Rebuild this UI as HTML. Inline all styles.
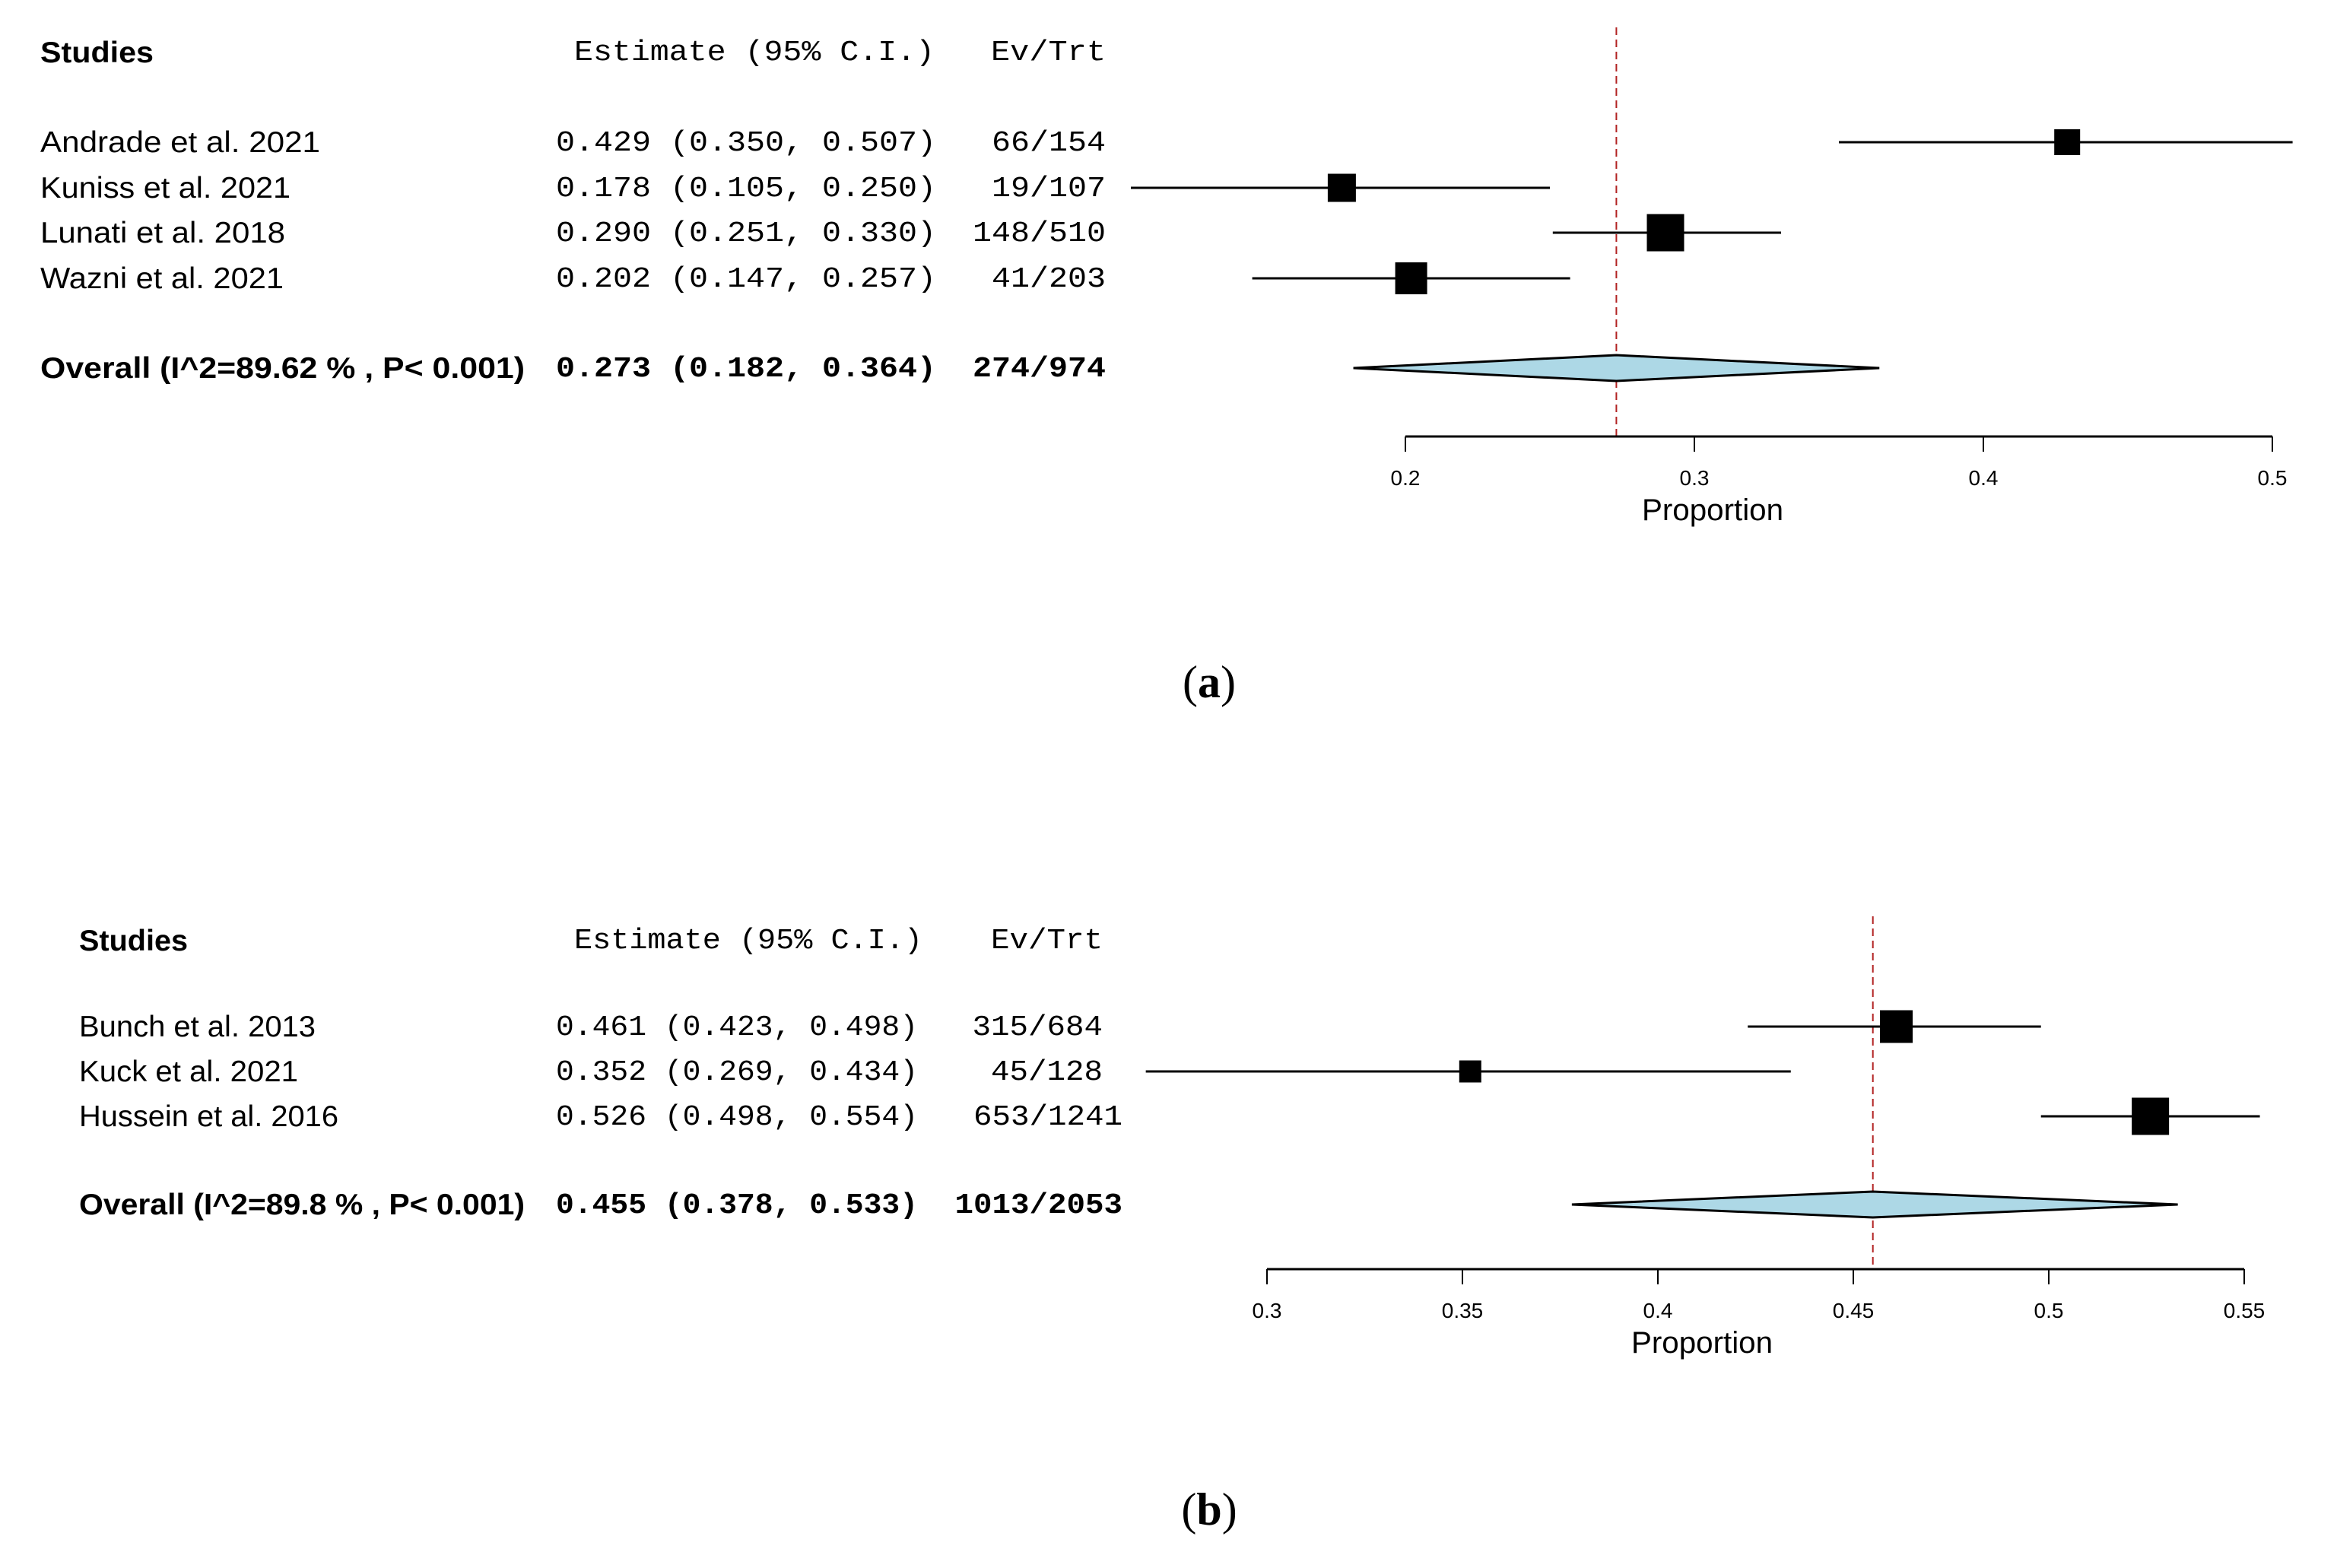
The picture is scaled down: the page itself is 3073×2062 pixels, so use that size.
<!DOCTYPE html>
<html><head><meta charset="utf-8"><style>
html,body{margin:0;padding:0;background:#fff;}
svg{display:block;}
.sans{font-family:"Liberation Sans",Arial,sans-serif;}
.mono{font-family:"Liberation Mono","Courier New",monospace;}
</style></head><body>
<svg id="fig" width="3073" height="2062" viewBox="0 0 3073 2062" xmlns="http://www.w3.org/2000/svg">
<rect width="3073" height="2062" fill="#fff"/>
</svg>
<script>
// Panel A data
const studiesA = ["Andrade et al. 2021","Kuniss et al. 2021","Lunati et al. 2018","Wazni et al. 2021"];
const estA = [0.429, 0.178, 0.290, 0.202];
const lowA = [0.350, 0.105, 0.251, 0.147];
const highA = [0.507, 0.250, 0.330, 0.257];
const evA = ["66/154","19/107","148/510","41/203"];
const weightA = [34, 37, 49, 42];
const overallA = [0.273, 0.182, 0.364];
const overallLabelA = "Overall (I^2=89.62 % , P< 0.001)";
const overallEvA = "274/974";
const ticksA = [0.2, 0.3, 0.4, 0.5];
// Panel B data
const studiesB = ["Bunch et al. 2013","Kuck et al. 2021","Hussein et al. 2016"];
const estB = [0.461, 0.352, 0.526];
const lowB = [0.423, 0.269, 0.498];
const highB = [0.498, 0.434, 0.554];
const evB = ["315/684","45/128","653/1241"];
const weightB = [43, 29, 49];
const overallB = [0.455, 0.378, 0.533];
const overallLabelB = "Overall (I^2=89.8 % , P< 0.001)";
const overallEvB = "1013/2053";
const ticksB = [0.3, 0.35, 0.4, 0.45, 0.5, 0.55];

const NS = "http://www.w3.org/2000/svg";
const svg = document.getElementById("fig");
function mk(tag, attrs, parent){
  const e = document.createElementNS(NS, tag);
  for (const k in attrs) e.setAttribute(k, attrs[k]);
  (parent||svg).appendChild(e);
  return e;
}
function txt(parent, s, x, y, size, cls, weight, anchor, len){
  const t = mk("text", {x:x, y:y, "font-size":size, class:cls, fill:"#000"}, parent);
  if (weight) t.setAttribute("font-weight", weight);
  if (anchor) t.setAttribute("text-anchor", anchor);
  if (len) { t.setAttribute("textLength", len); t.setAttribute("lengthAdjust","spacingAndGlyphs"); }
  t.textContent = s;
  return t;
}
function fmt(v){ return v.toFixed(3); }

function panel(cfg){
  const g = mk("g", {});
  
  
  const xs = v => cfg.x0 + (v - cfg.v0) * (cfg.x1 - cfg.x0) / (cfg.v1 - cfg.v0);
  const sz = 39;
  const h1 = txt(g, "Studies", cfg.lx, cfg.headY + 13, sz, "sans", "bold", null, cfg.studiesW);
  
  
  const h2 = txt(g, "Estimate (95% C.I.)", 755, cfg.headY + 10, 38, "mono", null, null, cfg.estHeadW);
  
  
  const h3 = txt(g, "Ev/Trt", 1303, cfg.headY + 10, 38, "mono", null, null, cfg.evHeadW);
  
  
  const dl = mk("line", {x1:xs(cfg.overall[0]), x2:xs(cfg.overall[0]), y1:cfg.dashTop, y2:cfg.axisY, stroke:"#b22222", "stroke-width":2, "stroke-dasharray":"10,6"}, g);
  
  
  for (let i=0;i<cfg.studies.length;i++){
    const y = cfg.rowY[i];
    const row = mk("g", {}, g);
    
    
    txt(row, cfg.studies[i], cfg.lx, y + 13, sz, "sans", null, null, cfg.nameW[i]);
    txt(row, fmt(cfg.est[i]) + " (" + fmt(cfg.low[i]) + ", " + fmt(cfg.high[i]) + ")", 731, y + 11, 38, "mono", null, null, cfg.estW);
    txt(row, cfg.ev[i], cfg.evRight[i], y + 11, 38, "mono", null, "end", cfg.ev[i].length * cfg.cw);
    const ci = mk("line", {x1:xs(cfg.low[i]), x2:xs(cfg.high[i]), y1:y, y2:y, stroke:"#000", "stroke-width":3}, row);
    
    
    const w = cfg.weight[i];
    const sq = mk("rect", {x:xs(cfg.est[i]) - w/2, y:y - w/2, width:w, height:w, fill:"#000"}, row);
    
    
  }
  const oy = cfg.overallY;
  const og = mk("g", {}, g);
  
  
  txt(og, cfg.overallLabel, cfg.lx, oy + 13, sz, "sans", "bold", null, cfg.overallW);
  txt(og, fmt(cfg.overall[0]) + " (" + fmt(cfg.overall[1]) + ", " + fmt(cfg.overall[2]) + ")", 731, oy + 11, 38, "mono", "bold", null, cfg.estW);
  txt(og, cfg.overallEv, cfg.overallEvRight, oy + 11, 38, "mono", "bold", "end", cfg.overallEv.length * cfg.cw);
  const d = mk("polygon", {points: xs(cfg.overall[1]) + "," + oy + " " + xs(cfg.overall[0]) + "," + (oy-17) + " " + xs(cfg.overall[2]) + "," + oy + " " + xs(cfg.overall[0]) + "," + (oy+17), fill:"#add8e6", stroke:"#000", "stroke-width":3}, og);
  
  
  const ax = mk("g", {}, g);
  
  
  mk("line", {x1:xs(cfg.ticks[0]), x2:xs(cfg.ticks[cfg.ticks.length-1]), y1:cfg.axisY, y2:cfg.axisY, stroke:"#000", "stroke-width":3}, ax);
  for (const t of cfg.ticks){
    const tx = xs(t);
    const tl = mk("line", {x1:tx, x2:tx, y1:cfg.axisY, y2:cfg.axisY + 20, stroke:"#000", "stroke-width":2}, ax);
    
    
    const lb = txt(ax, String(t), tx, cfg.axisY + 64, 28, "sans", null, "middle");
    
    
  }
  const xt = txt(ax, "Proportion", cfg.propX, cfg.axisY + 110, 40, "sans", null, "middle", 186);
  
  
  const cap = mk("text", {x:cfg.capX, y:cfg.capY, "font-size":60, "font-family":"'Liberation Serif',serif", "text-anchor":"middle", fill:"#000"}, g);
  
  
  cap.innerHTML = '(<tspan font-weight="bold">' + cfg.cap + '</tspan>)';
}

panel({name:"panel-a", x0:1848, x1:2988, v0:0.2, v1:0.5, lx:53, headY:69,
  studies:studiesA, est:estA, low:lowA, high:highA, ev:evA, weight:weightA,
  rowY:[187,247,306,366], overallY:484, dashTop:36, axisY:574,
  nameW:[368,329,322,320], studiesW:149, overallW:637, estW:500, estHeadW:474, evHeadW:151, cw:25,
  evRight:[1454,1454,1454,1454], overallEv:overallEvA, overallEvRight:1454,
  overall:overallA, overallLabel:overallLabelA, ticks:ticksA, propX:2252, capX:1590, capY:917, cap:"a"});
panel({name:"panel-b", x0:1666, x1:2951, v0:0.3, v1:0.55, lx:104, headY:1237,
  studies:studiesB, est:estB, low:lowB, high:highB, ev:evB, weight:weightB,
  rowY:[1350,1409,1468], overallY:1584, dashTop:1205, axisY:1669,
  nameW:[311,288,341], studiesW:143, overallW:586, estW:476, estHeadW:458, evHeadW:147, cw:24.5,
  evRight:[1450,1450,1476], overallEv:overallEvB, overallEvRight:1476,
  overall:overallB, overallLabel:overallLabelB, ticks:ticksB, propX:2238, capX:1590, capY:2005, cap:"b"});
</script>
</body></html>
